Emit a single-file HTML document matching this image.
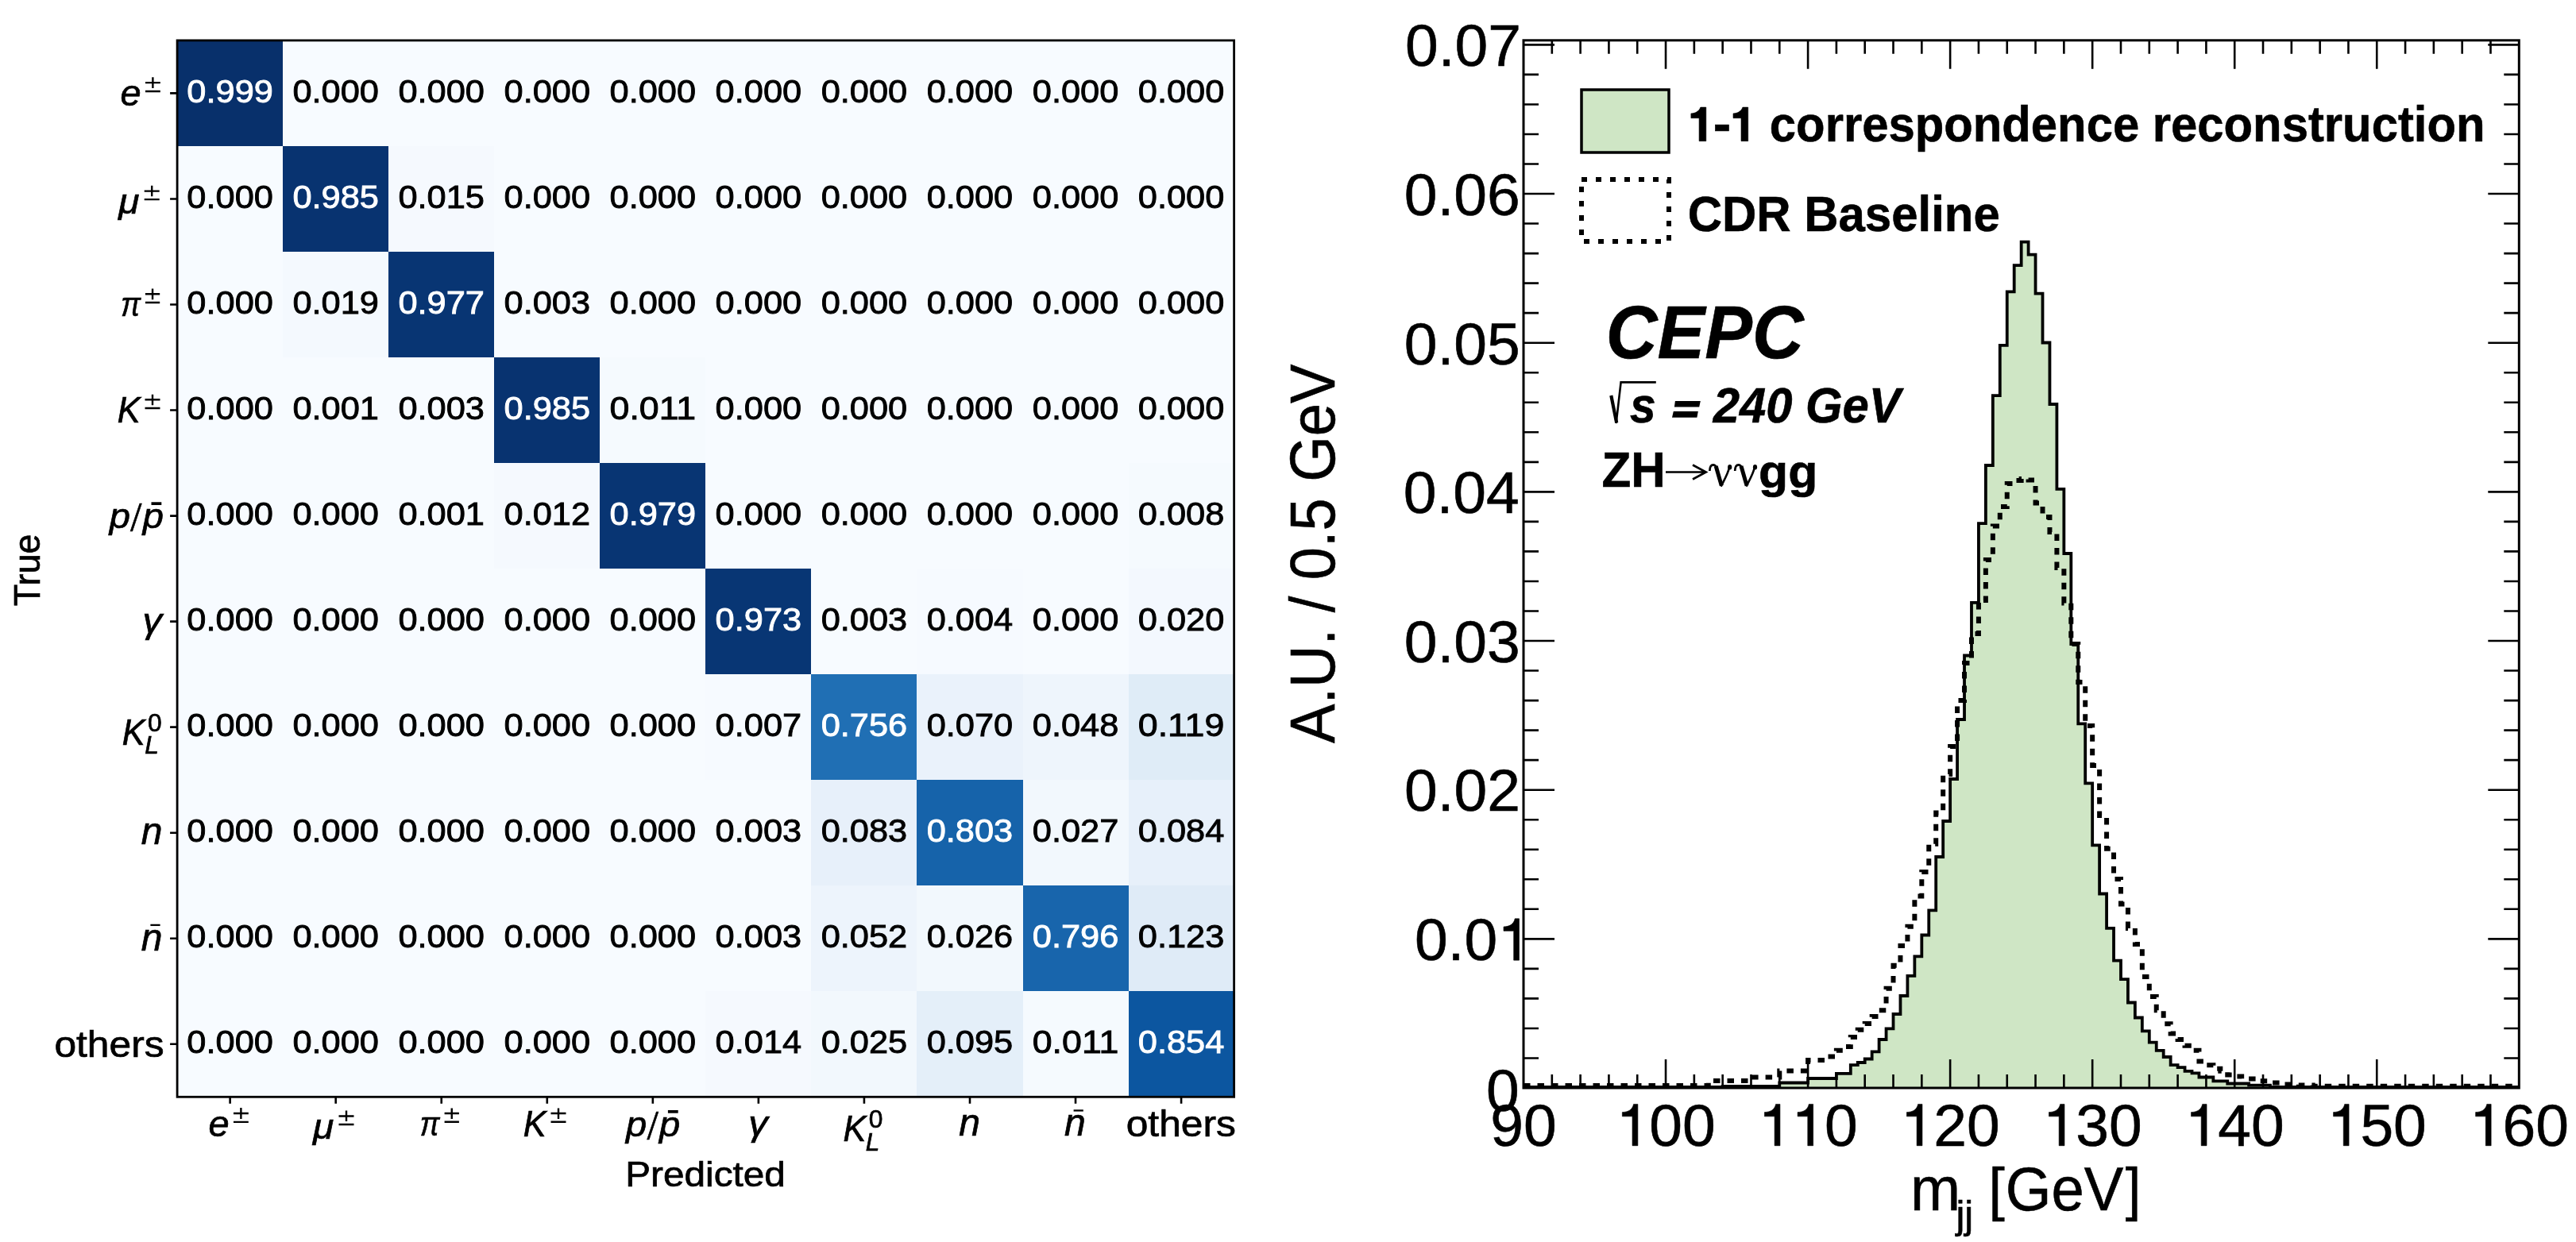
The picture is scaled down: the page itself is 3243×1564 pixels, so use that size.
<!DOCTYPE html><html><head><meta charset="utf-8"><style>html,body{margin:0;padding:0;background:#fff;overflow:hidden}svg{display:block;will-change:transform}text{font-family:"Liberation Sans",sans-serif}</style></head><body>
<svg width="3243" height="1564" viewBox="0 0 3243 1564">
<rect x="0" y="0" width="3243" height="1564" fill="#fff"/>
<g shape-rendering="crispEdges">
<rect x="223.10" y="50.90" width="133.65" height="133.64" fill="#08306b"/>
<rect x="356.15" y="50.90" width="133.65" height="133.64" fill="#f7fbff"/>
<rect x="489.20" y="50.90" width="133.65" height="133.64" fill="#f7fbff"/>
<rect x="622.25" y="50.90" width="133.65" height="133.64" fill="#f7fbff"/>
<rect x="755.30" y="50.90" width="133.65" height="133.64" fill="#f7fbff"/>
<rect x="888.35" y="50.90" width="133.65" height="133.64" fill="#f7fbff"/>
<rect x="1021.40" y="50.90" width="133.65" height="133.64" fill="#f7fbff"/>
<rect x="1154.45" y="50.90" width="133.65" height="133.64" fill="#f7fbff"/>
<rect x="1287.50" y="50.90" width="133.65" height="133.64" fill="#f7fbff"/>
<rect x="1420.55" y="50.90" width="133.65" height="133.64" fill="#f7fbff"/>
<rect x="223.10" y="183.94" width="133.65" height="133.64" fill="#f7fbff"/>
<rect x="356.15" y="183.94" width="133.65" height="133.64" fill="#083370"/>
<rect x="489.20" y="183.94" width="133.65" height="133.64" fill="#f5f9fe"/>
<rect x="622.25" y="183.94" width="133.65" height="133.64" fill="#f7fbff"/>
<rect x="755.30" y="183.94" width="133.65" height="133.64" fill="#f7fbff"/>
<rect x="888.35" y="183.94" width="133.65" height="133.64" fill="#f7fbff"/>
<rect x="1021.40" y="183.94" width="133.65" height="133.64" fill="#f7fbff"/>
<rect x="1154.45" y="183.94" width="133.65" height="133.64" fill="#f7fbff"/>
<rect x="1287.50" y="183.94" width="133.65" height="133.64" fill="#f7fbff"/>
<rect x="1420.55" y="183.94" width="133.65" height="133.64" fill="#f7fbff"/>
<rect x="223.10" y="316.98" width="133.65" height="133.64" fill="#f7fbff"/>
<rect x="356.15" y="316.98" width="133.65" height="133.64" fill="#f4f9fe"/>
<rect x="489.20" y="316.98" width="133.65" height="133.64" fill="#083573"/>
<rect x="622.25" y="316.98" width="133.65" height="133.64" fill="#f7fbff"/>
<rect x="755.30" y="316.98" width="133.65" height="133.64" fill="#f7fbff"/>
<rect x="888.35" y="316.98" width="133.65" height="133.64" fill="#f7fbff"/>
<rect x="1021.40" y="316.98" width="133.65" height="133.64" fill="#f7fbff"/>
<rect x="1154.45" y="316.98" width="133.65" height="133.64" fill="#f7fbff"/>
<rect x="1287.50" y="316.98" width="133.65" height="133.64" fill="#f7fbff"/>
<rect x="1420.55" y="316.98" width="133.65" height="133.64" fill="#f7fbff"/>
<rect x="223.10" y="450.02" width="133.65" height="133.64" fill="#f7fbff"/>
<rect x="356.15" y="450.02" width="133.65" height="133.64" fill="#f7fbff"/>
<rect x="489.20" y="450.02" width="133.65" height="133.64" fill="#f7fbff"/>
<rect x="622.25" y="450.02" width="133.65" height="133.64" fill="#083370"/>
<rect x="755.30" y="450.02" width="133.65" height="133.64" fill="#f5fafe"/>
<rect x="888.35" y="450.02" width="133.65" height="133.64" fill="#f7fbff"/>
<rect x="1021.40" y="450.02" width="133.65" height="133.64" fill="#f7fbff"/>
<rect x="1154.45" y="450.02" width="133.65" height="133.64" fill="#f7fbff"/>
<rect x="1287.50" y="450.02" width="133.65" height="133.64" fill="#f7fbff"/>
<rect x="1420.55" y="450.02" width="133.65" height="133.64" fill="#f7fbff"/>
<rect x="223.10" y="583.06" width="133.65" height="133.64" fill="#f7fbff"/>
<rect x="356.15" y="583.06" width="133.65" height="133.64" fill="#f7fbff"/>
<rect x="489.20" y="583.06" width="133.65" height="133.64" fill="#f7fbff"/>
<rect x="622.25" y="583.06" width="133.65" height="133.64" fill="#f5f9fe"/>
<rect x="755.30" y="583.06" width="133.65" height="133.64" fill="#083573"/>
<rect x="888.35" y="583.06" width="133.65" height="133.64" fill="#f7fbff"/>
<rect x="1021.40" y="583.06" width="133.65" height="133.64" fill="#f7fbff"/>
<rect x="1154.45" y="583.06" width="133.65" height="133.64" fill="#f7fbff"/>
<rect x="1287.50" y="583.06" width="133.65" height="133.64" fill="#f7fbff"/>
<rect x="1420.55" y="583.06" width="133.65" height="133.64" fill="#f5fafe"/>
<rect x="223.10" y="716.10" width="133.65" height="133.64" fill="#f7fbff"/>
<rect x="356.15" y="716.10" width="133.65" height="133.64" fill="#f7fbff"/>
<rect x="489.20" y="716.10" width="133.65" height="133.64" fill="#f7fbff"/>
<rect x="622.25" y="716.10" width="133.65" height="133.64" fill="#f7fbff"/>
<rect x="755.30" y="716.10" width="133.65" height="133.64" fill="#f7fbff"/>
<rect x="888.35" y="716.10" width="133.65" height="133.64" fill="#083674"/>
<rect x="1021.40" y="716.10" width="133.65" height="133.64" fill="#f7fbff"/>
<rect x="1154.45" y="716.10" width="133.65" height="133.64" fill="#f6faff"/>
<rect x="1287.50" y="716.10" width="133.65" height="133.64" fill="#f7fbff"/>
<rect x="1420.55" y="716.10" width="133.65" height="133.64" fill="#f3f8fe"/>
<rect x="223.10" y="849.14" width="133.65" height="133.64" fill="#f7fbff"/>
<rect x="356.15" y="849.14" width="133.65" height="133.64" fill="#f7fbff"/>
<rect x="489.20" y="849.14" width="133.65" height="133.64" fill="#f7fbff"/>
<rect x="622.25" y="849.14" width="133.65" height="133.64" fill="#f7fbff"/>
<rect x="755.30" y="849.14" width="133.65" height="133.64" fill="#f7fbff"/>
<rect x="888.35" y="849.14" width="133.65" height="133.64" fill="#f6faff"/>
<rect x="1021.40" y="849.14" width="133.65" height="133.64" fill="#206fb4"/>
<rect x="1154.45" y="849.14" width="133.65" height="133.64" fill="#eaf2fb"/>
<rect x="1287.50" y="849.14" width="133.65" height="133.64" fill="#eef5fc"/>
<rect x="1420.55" y="849.14" width="133.65" height="133.64" fill="#dfecf7"/>
<rect x="223.10" y="982.18" width="133.65" height="133.64" fill="#f7fbff"/>
<rect x="356.15" y="982.18" width="133.65" height="133.64" fill="#f7fbff"/>
<rect x="489.20" y="982.18" width="133.65" height="133.64" fill="#f7fbff"/>
<rect x="622.25" y="982.18" width="133.65" height="133.64" fill="#f7fbff"/>
<rect x="755.30" y="982.18" width="133.65" height="133.64" fill="#f7fbff"/>
<rect x="888.35" y="982.18" width="133.65" height="133.64" fill="#f7fbff"/>
<rect x="1021.40" y="982.18" width="133.65" height="133.64" fill="#e7f0fa"/>
<rect x="1154.45" y="982.18" width="133.65" height="133.64" fill="#1663aa"/>
<rect x="1287.50" y="982.18" width="133.65" height="133.64" fill="#f2f8fd"/>
<rect x="1420.55" y="982.18" width="133.65" height="133.64" fill="#e7f0fa"/>
<rect x="223.10" y="1115.22" width="133.65" height="133.64" fill="#f7fbff"/>
<rect x="356.15" y="1115.22" width="133.65" height="133.64" fill="#f7fbff"/>
<rect x="489.20" y="1115.22" width="133.65" height="133.64" fill="#f7fbff"/>
<rect x="622.25" y="1115.22" width="133.65" height="133.64" fill="#f7fbff"/>
<rect x="755.30" y="1115.22" width="133.65" height="133.64" fill="#f7fbff"/>
<rect x="888.35" y="1115.22" width="133.65" height="133.64" fill="#f7fbff"/>
<rect x="1021.40" y="1115.22" width="133.65" height="133.64" fill="#edf4fc"/>
<rect x="1154.45" y="1115.22" width="133.65" height="133.64" fill="#f2f8fd"/>
<rect x="1287.50" y="1115.22" width="133.65" height="133.64" fill="#1865ac"/>
<rect x="1420.55" y="1115.22" width="133.65" height="133.64" fill="#dfebf7"/>
<rect x="223.10" y="1248.26" width="133.65" height="133.64" fill="#f7fbff"/>
<rect x="356.15" y="1248.26" width="133.65" height="133.64" fill="#f7fbff"/>
<rect x="489.20" y="1248.26" width="133.65" height="133.64" fill="#f7fbff"/>
<rect x="622.25" y="1248.26" width="133.65" height="133.64" fill="#f7fbff"/>
<rect x="755.30" y="1248.26" width="133.65" height="133.64" fill="#f7fbff"/>
<rect x="888.35" y="1248.26" width="133.65" height="133.64" fill="#f5f9fe"/>
<rect x="1021.40" y="1248.26" width="133.65" height="133.64" fill="#f2f8fd"/>
<rect x="1154.45" y="1248.26" width="133.65" height="133.64" fill="#e4eff9"/>
<rect x="1287.50" y="1248.26" width="133.65" height="133.64" fill="#f5fafe"/>
<rect x="1420.55" y="1248.26" width="133.65" height="133.64" fill="#0c56a0"/>
</g>
<g font-size="41" text-anchor="middle">
<text x="289.62" y="128.52" fill="#fff" stroke="#fff" stroke-width="0.9" textLength="108.5" lengthAdjust="spacingAndGlyphs">0.999</text>
<text x="422.68" y="128.52" fill="#000" stroke="#000" stroke-width="0.9" textLength="108.5" lengthAdjust="spacingAndGlyphs">0.000</text>
<text x="555.73" y="128.52" fill="#000" stroke="#000" stroke-width="0.9" textLength="108.5" lengthAdjust="spacingAndGlyphs">0.000</text>
<text x="688.78" y="128.52" fill="#000" stroke="#000" stroke-width="0.9" textLength="108.5" lengthAdjust="spacingAndGlyphs">0.000</text>
<text x="821.83" y="128.52" fill="#000" stroke="#000" stroke-width="0.9" textLength="108.5" lengthAdjust="spacingAndGlyphs">0.000</text>
<text x="954.88" y="128.52" fill="#000" stroke="#000" stroke-width="0.9" textLength="108.5" lengthAdjust="spacingAndGlyphs">0.000</text>
<text x="1087.92" y="128.52" fill="#000" stroke="#000" stroke-width="0.9" textLength="108.5" lengthAdjust="spacingAndGlyphs">0.000</text>
<text x="1220.98" y="128.52" fill="#000" stroke="#000" stroke-width="0.9" textLength="108.5" lengthAdjust="spacingAndGlyphs">0.000</text>
<text x="1354.03" y="128.52" fill="#000" stroke="#000" stroke-width="0.9" textLength="108.5" lengthAdjust="spacingAndGlyphs">0.000</text>
<text x="1487.08" y="128.52" fill="#000" stroke="#000" stroke-width="0.9" textLength="108.5" lengthAdjust="spacingAndGlyphs">0.000</text>
<text x="289.62" y="261.56" fill="#000" stroke="#000" stroke-width="0.9" textLength="108.5" lengthAdjust="spacingAndGlyphs">0.000</text>
<text x="422.68" y="261.56" fill="#fff" stroke="#fff" stroke-width="0.9" textLength="108.5" lengthAdjust="spacingAndGlyphs">0.985</text>
<text x="555.73" y="261.56" fill="#000" stroke="#000" stroke-width="0.9" textLength="108.5" lengthAdjust="spacingAndGlyphs">0.015</text>
<text x="688.78" y="261.56" fill="#000" stroke="#000" stroke-width="0.9" textLength="108.5" lengthAdjust="spacingAndGlyphs">0.000</text>
<text x="821.83" y="261.56" fill="#000" stroke="#000" stroke-width="0.9" textLength="108.5" lengthAdjust="spacingAndGlyphs">0.000</text>
<text x="954.88" y="261.56" fill="#000" stroke="#000" stroke-width="0.9" textLength="108.5" lengthAdjust="spacingAndGlyphs">0.000</text>
<text x="1087.92" y="261.56" fill="#000" stroke="#000" stroke-width="0.9" textLength="108.5" lengthAdjust="spacingAndGlyphs">0.000</text>
<text x="1220.98" y="261.56" fill="#000" stroke="#000" stroke-width="0.9" textLength="108.5" lengthAdjust="spacingAndGlyphs">0.000</text>
<text x="1354.03" y="261.56" fill="#000" stroke="#000" stroke-width="0.9" textLength="108.5" lengthAdjust="spacingAndGlyphs">0.000</text>
<text x="1487.08" y="261.56" fill="#000" stroke="#000" stroke-width="0.9" textLength="108.5" lengthAdjust="spacingAndGlyphs">0.000</text>
<text x="289.62" y="394.60" fill="#000" stroke="#000" stroke-width="0.9" textLength="108.5" lengthAdjust="spacingAndGlyphs">0.000</text>
<text x="422.68" y="394.60" fill="#000" stroke="#000" stroke-width="0.9" textLength="108.5" lengthAdjust="spacingAndGlyphs">0.019</text>
<text x="555.73" y="394.60" fill="#fff" stroke="#fff" stroke-width="0.9" textLength="108.5" lengthAdjust="spacingAndGlyphs">0.977</text>
<text x="688.78" y="394.60" fill="#000" stroke="#000" stroke-width="0.9" textLength="108.5" lengthAdjust="spacingAndGlyphs">0.003</text>
<text x="821.83" y="394.60" fill="#000" stroke="#000" stroke-width="0.9" textLength="108.5" lengthAdjust="spacingAndGlyphs">0.000</text>
<text x="954.88" y="394.60" fill="#000" stroke="#000" stroke-width="0.9" textLength="108.5" lengthAdjust="spacingAndGlyphs">0.000</text>
<text x="1087.92" y="394.60" fill="#000" stroke="#000" stroke-width="0.9" textLength="108.5" lengthAdjust="spacingAndGlyphs">0.000</text>
<text x="1220.98" y="394.60" fill="#000" stroke="#000" stroke-width="0.9" textLength="108.5" lengthAdjust="spacingAndGlyphs">0.000</text>
<text x="1354.03" y="394.60" fill="#000" stroke="#000" stroke-width="0.9" textLength="108.5" lengthAdjust="spacingAndGlyphs">0.000</text>
<text x="1487.08" y="394.60" fill="#000" stroke="#000" stroke-width="0.9" textLength="108.5" lengthAdjust="spacingAndGlyphs">0.000</text>
<text x="289.62" y="527.64" fill="#000" stroke="#000" stroke-width="0.9" textLength="108.5" lengthAdjust="spacingAndGlyphs">0.000</text>
<text x="422.68" y="527.64" fill="#000" stroke="#000" stroke-width="0.9" textLength="108.5" lengthAdjust="spacingAndGlyphs">0.001</text>
<text x="555.73" y="527.64" fill="#000" stroke="#000" stroke-width="0.9" textLength="108.5" lengthAdjust="spacingAndGlyphs">0.003</text>
<text x="688.78" y="527.64" fill="#fff" stroke="#fff" stroke-width="0.9" textLength="108.5" lengthAdjust="spacingAndGlyphs">0.985</text>
<text x="821.83" y="527.64" fill="#000" stroke="#000" stroke-width="0.9" textLength="108.5" lengthAdjust="spacingAndGlyphs">0.011</text>
<text x="954.88" y="527.64" fill="#000" stroke="#000" stroke-width="0.9" textLength="108.5" lengthAdjust="spacingAndGlyphs">0.000</text>
<text x="1087.92" y="527.64" fill="#000" stroke="#000" stroke-width="0.9" textLength="108.5" lengthAdjust="spacingAndGlyphs">0.000</text>
<text x="1220.98" y="527.64" fill="#000" stroke="#000" stroke-width="0.9" textLength="108.5" lengthAdjust="spacingAndGlyphs">0.000</text>
<text x="1354.03" y="527.64" fill="#000" stroke="#000" stroke-width="0.9" textLength="108.5" lengthAdjust="spacingAndGlyphs">0.000</text>
<text x="1487.08" y="527.64" fill="#000" stroke="#000" stroke-width="0.9" textLength="108.5" lengthAdjust="spacingAndGlyphs">0.000</text>
<text x="289.62" y="660.68" fill="#000" stroke="#000" stroke-width="0.9" textLength="108.5" lengthAdjust="spacingAndGlyphs">0.000</text>
<text x="422.68" y="660.68" fill="#000" stroke="#000" stroke-width="0.9" textLength="108.5" lengthAdjust="spacingAndGlyphs">0.000</text>
<text x="555.73" y="660.68" fill="#000" stroke="#000" stroke-width="0.9" textLength="108.5" lengthAdjust="spacingAndGlyphs">0.001</text>
<text x="688.78" y="660.68" fill="#000" stroke="#000" stroke-width="0.9" textLength="108.5" lengthAdjust="spacingAndGlyphs">0.012</text>
<text x="821.83" y="660.68" fill="#fff" stroke="#fff" stroke-width="0.9" textLength="108.5" lengthAdjust="spacingAndGlyphs">0.979</text>
<text x="954.88" y="660.68" fill="#000" stroke="#000" stroke-width="0.9" textLength="108.5" lengthAdjust="spacingAndGlyphs">0.000</text>
<text x="1087.92" y="660.68" fill="#000" stroke="#000" stroke-width="0.9" textLength="108.5" lengthAdjust="spacingAndGlyphs">0.000</text>
<text x="1220.98" y="660.68" fill="#000" stroke="#000" stroke-width="0.9" textLength="108.5" lengthAdjust="spacingAndGlyphs">0.000</text>
<text x="1354.03" y="660.68" fill="#000" stroke="#000" stroke-width="0.9" textLength="108.5" lengthAdjust="spacingAndGlyphs">0.000</text>
<text x="1487.08" y="660.68" fill="#000" stroke="#000" stroke-width="0.9" textLength="108.5" lengthAdjust="spacingAndGlyphs">0.008</text>
<text x="289.62" y="793.72" fill="#000" stroke="#000" stroke-width="0.9" textLength="108.5" lengthAdjust="spacingAndGlyphs">0.000</text>
<text x="422.68" y="793.72" fill="#000" stroke="#000" stroke-width="0.9" textLength="108.5" lengthAdjust="spacingAndGlyphs">0.000</text>
<text x="555.73" y="793.72" fill="#000" stroke="#000" stroke-width="0.9" textLength="108.5" lengthAdjust="spacingAndGlyphs">0.000</text>
<text x="688.78" y="793.72" fill="#000" stroke="#000" stroke-width="0.9" textLength="108.5" lengthAdjust="spacingAndGlyphs">0.000</text>
<text x="821.83" y="793.72" fill="#000" stroke="#000" stroke-width="0.9" textLength="108.5" lengthAdjust="spacingAndGlyphs">0.000</text>
<text x="954.88" y="793.72" fill="#fff" stroke="#fff" stroke-width="0.9" textLength="108.5" lengthAdjust="spacingAndGlyphs">0.973</text>
<text x="1087.92" y="793.72" fill="#000" stroke="#000" stroke-width="0.9" textLength="108.5" lengthAdjust="spacingAndGlyphs">0.003</text>
<text x="1220.98" y="793.72" fill="#000" stroke="#000" stroke-width="0.9" textLength="108.5" lengthAdjust="spacingAndGlyphs">0.004</text>
<text x="1354.03" y="793.72" fill="#000" stroke="#000" stroke-width="0.9" textLength="108.5" lengthAdjust="spacingAndGlyphs">0.000</text>
<text x="1487.08" y="793.72" fill="#000" stroke="#000" stroke-width="0.9" textLength="108.5" lengthAdjust="spacingAndGlyphs">0.020</text>
<text x="289.62" y="926.76" fill="#000" stroke="#000" stroke-width="0.9" textLength="108.5" lengthAdjust="spacingAndGlyphs">0.000</text>
<text x="422.68" y="926.76" fill="#000" stroke="#000" stroke-width="0.9" textLength="108.5" lengthAdjust="spacingAndGlyphs">0.000</text>
<text x="555.73" y="926.76" fill="#000" stroke="#000" stroke-width="0.9" textLength="108.5" lengthAdjust="spacingAndGlyphs">0.000</text>
<text x="688.78" y="926.76" fill="#000" stroke="#000" stroke-width="0.9" textLength="108.5" lengthAdjust="spacingAndGlyphs">0.000</text>
<text x="821.83" y="926.76" fill="#000" stroke="#000" stroke-width="0.9" textLength="108.5" lengthAdjust="spacingAndGlyphs">0.000</text>
<text x="954.88" y="926.76" fill="#000" stroke="#000" stroke-width="0.9" textLength="108.5" lengthAdjust="spacingAndGlyphs">0.007</text>
<text x="1087.92" y="926.76" fill="#fff" stroke="#fff" stroke-width="0.9" textLength="108.5" lengthAdjust="spacingAndGlyphs">0.756</text>
<text x="1220.98" y="926.76" fill="#000" stroke="#000" stroke-width="0.9" textLength="108.5" lengthAdjust="spacingAndGlyphs">0.070</text>
<text x="1354.03" y="926.76" fill="#000" stroke="#000" stroke-width="0.9" textLength="108.5" lengthAdjust="spacingAndGlyphs">0.048</text>
<text x="1487.08" y="926.76" fill="#000" stroke="#000" stroke-width="0.9" textLength="108.5" lengthAdjust="spacingAndGlyphs">0.119</text>
<text x="289.62" y="1059.80" fill="#000" stroke="#000" stroke-width="0.9" textLength="108.5" lengthAdjust="spacingAndGlyphs">0.000</text>
<text x="422.68" y="1059.80" fill="#000" stroke="#000" stroke-width="0.9" textLength="108.5" lengthAdjust="spacingAndGlyphs">0.000</text>
<text x="555.73" y="1059.80" fill="#000" stroke="#000" stroke-width="0.9" textLength="108.5" lengthAdjust="spacingAndGlyphs">0.000</text>
<text x="688.78" y="1059.80" fill="#000" stroke="#000" stroke-width="0.9" textLength="108.5" lengthAdjust="spacingAndGlyphs">0.000</text>
<text x="821.83" y="1059.80" fill="#000" stroke="#000" stroke-width="0.9" textLength="108.5" lengthAdjust="spacingAndGlyphs">0.000</text>
<text x="954.88" y="1059.80" fill="#000" stroke="#000" stroke-width="0.9" textLength="108.5" lengthAdjust="spacingAndGlyphs">0.003</text>
<text x="1087.92" y="1059.80" fill="#000" stroke="#000" stroke-width="0.9" textLength="108.5" lengthAdjust="spacingAndGlyphs">0.083</text>
<text x="1220.98" y="1059.80" fill="#fff" stroke="#fff" stroke-width="0.9" textLength="108.5" lengthAdjust="spacingAndGlyphs">0.803</text>
<text x="1354.03" y="1059.80" fill="#000" stroke="#000" stroke-width="0.9" textLength="108.5" lengthAdjust="spacingAndGlyphs">0.027</text>
<text x="1487.08" y="1059.80" fill="#000" stroke="#000" stroke-width="0.9" textLength="108.5" lengthAdjust="spacingAndGlyphs">0.084</text>
<text x="289.62" y="1192.84" fill="#000" stroke="#000" stroke-width="0.9" textLength="108.5" lengthAdjust="spacingAndGlyphs">0.000</text>
<text x="422.68" y="1192.84" fill="#000" stroke="#000" stroke-width="0.9" textLength="108.5" lengthAdjust="spacingAndGlyphs">0.000</text>
<text x="555.73" y="1192.84" fill="#000" stroke="#000" stroke-width="0.9" textLength="108.5" lengthAdjust="spacingAndGlyphs">0.000</text>
<text x="688.78" y="1192.84" fill="#000" stroke="#000" stroke-width="0.9" textLength="108.5" lengthAdjust="spacingAndGlyphs">0.000</text>
<text x="821.83" y="1192.84" fill="#000" stroke="#000" stroke-width="0.9" textLength="108.5" lengthAdjust="spacingAndGlyphs">0.000</text>
<text x="954.88" y="1192.84" fill="#000" stroke="#000" stroke-width="0.9" textLength="108.5" lengthAdjust="spacingAndGlyphs">0.003</text>
<text x="1087.92" y="1192.84" fill="#000" stroke="#000" stroke-width="0.9" textLength="108.5" lengthAdjust="spacingAndGlyphs">0.052</text>
<text x="1220.98" y="1192.84" fill="#000" stroke="#000" stroke-width="0.9" textLength="108.5" lengthAdjust="spacingAndGlyphs">0.026</text>
<text x="1354.03" y="1192.84" fill="#fff" stroke="#fff" stroke-width="0.9" textLength="108.5" lengthAdjust="spacingAndGlyphs">0.796</text>
<text x="1487.08" y="1192.84" fill="#000" stroke="#000" stroke-width="0.9" textLength="108.5" lengthAdjust="spacingAndGlyphs">0.123</text>
<text x="289.62" y="1325.88" fill="#000" stroke="#000" stroke-width="0.9" textLength="108.5" lengthAdjust="spacingAndGlyphs">0.000</text>
<text x="422.68" y="1325.88" fill="#000" stroke="#000" stroke-width="0.9" textLength="108.5" lengthAdjust="spacingAndGlyphs">0.000</text>
<text x="555.73" y="1325.88" fill="#000" stroke="#000" stroke-width="0.9" textLength="108.5" lengthAdjust="spacingAndGlyphs">0.000</text>
<text x="688.78" y="1325.88" fill="#000" stroke="#000" stroke-width="0.9" textLength="108.5" lengthAdjust="spacingAndGlyphs">0.000</text>
<text x="821.83" y="1325.88" fill="#000" stroke="#000" stroke-width="0.9" textLength="108.5" lengthAdjust="spacingAndGlyphs">0.000</text>
<text x="954.88" y="1325.88" fill="#000" stroke="#000" stroke-width="0.9" textLength="108.5" lengthAdjust="spacingAndGlyphs">0.014</text>
<text x="1087.92" y="1325.88" fill="#000" stroke="#000" stroke-width="0.9" textLength="108.5" lengthAdjust="spacingAndGlyphs">0.025</text>
<text x="1220.98" y="1325.88" fill="#000" stroke="#000" stroke-width="0.9" textLength="108.5" lengthAdjust="spacingAndGlyphs">0.095</text>
<text x="1354.03" y="1325.88" fill="#000" stroke="#000" stroke-width="0.9" textLength="108.5" lengthAdjust="spacingAndGlyphs">0.011</text>
<text x="1487.08" y="1325.88" fill="#fff" stroke="#fff" stroke-width="0.9" textLength="108.5" lengthAdjust="spacingAndGlyphs">0.854</text>
</g>
<rect x="223.1" y="50.9" width="1330.50" height="1330.40" fill="none" stroke="#000" stroke-width="2.8"/>
<path d="M214.10 117.42H223.10 M289.62 1381.30V1389.80 M214.10 250.46H223.10 M422.68 1381.30V1389.80 M214.10 383.50H223.10 M555.73 1381.30V1389.80 M214.10 516.54H223.10 M688.78 1381.30V1389.80 M214.10 649.58H223.10 M821.83 1381.30V1389.80 M214.10 782.62H223.10 M954.88 1381.30V1389.80 M214.10 915.66H223.10 M1087.92 1381.30V1389.80 M214.10 1048.70H223.10 M1220.98 1381.30V1389.80 M214.10 1181.74H223.10 M1354.03 1381.30V1389.80 M214.10 1314.78H223.10 M1487.08 1381.30V1389.80" stroke="#000" stroke-width="2.6" fill="none"/>
<g fill="#000">
<text transform="translate(262.52 1431.15) scale(1.0213 1)" font-size="46.00" font-style="italic" fill="#000" stroke="#000" stroke-width="0.7">e</text><path d="M293.96 1402.00H312.80M303.38 1395.10V1409.00M293.96 1412.90H312.80" stroke="#000" stroke-width="2.4" fill="none"/>
<text transform="translate(151.52 133.27) scale(1.0213 1)" font-size="46.00" font-style="italic" fill="#000" stroke="#000" stroke-width="0.7">e</text><path d="M182.96 104.12H201.80M192.38 97.22V111.12M182.96 115.02H201.80" stroke="#000" stroke-width="2.4" fill="none"/>
<text transform="translate(394.10 1434.01) scale(1.0552 1)" font-size="45.26" font-style="italic" fill="#000" stroke="#000" stroke-width="0.7">μ</text><path d="M426.50 1405.50H445.50M436.00 1398.50V1412.10M426.50 1416.00H445.50" stroke="#000" stroke-width="2.4" fill="none"/>
<text transform="translate(149.30 269.17) scale(1.0552 1)" font-size="45.26" font-style="italic" fill="#000" stroke="#000" stroke-width="0.7">μ</text><path d="M181.70 240.66H200.70M191.20 233.66V247.26M181.70 251.16H200.70" stroke="#000" stroke-width="2.4" fill="none"/>
<text transform="translate(528.86 1430.28) scale(0.8544 1)" font-size="43.30" font-style="italic" fill="#000" stroke="#000" stroke-width="0.7">π</text><path d="M559.60 1402.00H577.90M568.75 1395.40V1409.00M559.60 1412.80H577.90" stroke="#000" stroke-width="2.4" fill="none"/>
<text transform="translate(152.16 398.48) scale(0.8544 1)" font-size="43.30" font-style="italic" fill="#000" stroke="#000" stroke-width="0.7">π</text><path d="M182.90 370.20H201.20M192.05 363.60V377.20M182.90 381.00H201.20" stroke="#000" stroke-width="2.4" fill="none"/>
<text transform="translate(658.77 1430.70) scale(0.9357 1)" font-size="46.22" font-style="italic" fill="#000" stroke="#000" stroke-width="0.7">K</text><path d="M693.50 1402.00H712.50M703.00 1395.40V1409.00M693.50 1412.80H712.50" stroke="#000" stroke-width="2.4" fill="none"/>
<text transform="translate(147.77 531.94) scale(0.9357 1)" font-size="46.22" font-style="italic" fill="#000" stroke="#000" stroke-width="0.7">K</text><path d="M182.50 503.24H201.50M192.00 496.64V510.24M182.50 514.04H201.50" stroke="#000" stroke-width="2.4" fill="none"/>
<text transform="translate(788.08 1430.76) scale(1.0598 1)" font-size="44.53" font-style="italic" fill="#000" stroke="#000" stroke-width="0.7">p</text><text transform="translate(816.44 1434.52) scale(0.7007 1)" font-size="48.89" font-style="italic" fill="#000" stroke="#000" stroke-width="0.7">/</text><text transform="translate(830.08 1430.76) scale(1.0598 1)" font-size="44.53" font-style="italic" fill="#000" stroke="#000" stroke-width="0.7">p</text><rect x="840.90" y="1398.00" width="12.80" height="3.70" fill="#000"/>
<text transform="translate(137.68 665.04) scale(1.0598 1)" font-size="44.53" font-style="italic" fill="#000" stroke="#000" stroke-width="0.7">p</text><text transform="translate(166.04 668.80) scale(0.7007 1)" font-size="48.89" font-style="italic" fill="#000" stroke="#000" stroke-width="0.7">/</text><text transform="translate(179.68 665.04) scale(1.0598 1)" font-size="44.53" font-style="italic" fill="#000" stroke="#000" stroke-width="0.7">p</text><rect x="190.50" y="632.28" width="12.80" height="3.70" fill="#000"/>
<text transform="translate(942.15 1429.92) scale(1.0791 1)" font-size="45.28" font-style="italic" fill="#000" stroke="#000" stroke-width="0.7">γ</text>
<text transform="translate(179.55 797.24) scale(1.0791 1)" font-size="45.28" font-style="italic" fill="#000" stroke="#000" stroke-width="0.7">γ</text>
<text transform="translate(1061.57 1437.40) scale(0.9357 1)" font-size="46.22" font-style="italic" fill="#000" stroke="#000" stroke-width="0.7">K</text><text transform="translate(1093.76 1420.39) scale(1.0006 1)" font-size="31.78"  fill="#000" stroke="#000" stroke-width="0.7">0</text><text transform="translate(1089.83 1449.00) scale(1.0021 1)" font-size="31.54" font-style="italic" fill="#000" stroke="#000" stroke-width="0.7">L</text>
<text transform="translate(153.87 937.76) scale(0.9357 1)" font-size="46.22" font-style="italic" fill="#000" stroke="#000" stroke-width="0.7">K</text><text transform="translate(186.06 920.75) scale(1.0006 1)" font-size="31.78"  fill="#000" stroke="#000" stroke-width="0.7">0</text><text transform="translate(182.13 949.36) scale(1.0021 1)" font-size="31.54" font-style="italic" fill="#000" stroke="#000" stroke-width="0.7">L</text>
<text transform="translate(1207.20 1429.70) scale(0.9955 1)" font-size="48.18" font-style="italic" fill="#000" stroke="#000" stroke-width="0.7">n</text>
<text transform="translate(177.80 1063.10) scale(0.9955 1)" font-size="48.18" font-style="italic" fill="#000" stroke="#000" stroke-width="0.7">n</text>
<text transform="translate(1340.00 1430.40) scale(0.9955 1)" font-size="48.18" font-style="italic" fill="#000" stroke="#000" stroke-width="0.7">n</text><rect x="1351.60" y="1397.30" width="12.20" height="2.30" fill="#000"/>
<text transform="translate(177.80 1196.84) scale(0.9955 1)" font-size="48.18" font-style="italic" fill="#000" stroke="#000" stroke-width="0.7">n</text><rect x="189.40" y="1163.74" width="12.20" height="2.30" fill="#000"/>
<text transform="translate(1417.71 1431.15) scale(1.0867 1)" font-size="45.75"  fill="#000" stroke="#000" stroke-width="0.7">others</text>
<text transform="translate(68.41 1330.63) scale(1.0867 1)" font-size="45.75"  fill="#000" stroke="#000" stroke-width="0.7">others</text>
<text transform="translate(787.18 1493.50) scale(1.0856 1)" font-size="44.00"  fill="#000" stroke="#000" stroke-width="0.7">Predicted</text>
<g transform="translate(50.1 762.3) rotate(-90)"><text transform="translate(-1.01 0.00) scale(0.9834 1)" font-size="45.80"  fill="#000" stroke="#000" stroke-width="0.7">True</text></g>
</g>
<path d="M1918.00 1369.00H1926.95V1369.00H1935.90V1369.00H1944.86V1369.00H1953.81V1369.00H1962.76V1369.00H1971.71V1369.00H1980.66V1369.00H1989.62V1369.00H1998.57V1369.00H2007.52V1369.00H2016.47V1369.00H2025.43V1369.00H2034.38V1369.00H2043.33V1369.00H2052.28V1369.00H2061.23V1369.00H2070.19V1369.00H2079.14V1369.00H2088.09V1369.00H2097.04V1369.00H2105.99V1369.00H2114.95V1369.00H2123.90V1369.00H2132.85V1369.00H2141.80V1369.00H2150.76V1369.00H2159.71V1369.00H2168.66V1367.80H2177.61V1367.80H2186.56V1367.80H2195.52V1367.80H2204.47V1367.80H2213.42V1367.80H2222.37V1367.80H2231.32V1367.80H2240.28V1363.50H2249.23V1363.50H2258.18V1363.50H2267.13V1363.50H2276.09V1358.00H2285.04V1358.00H2293.99V1358.00H2302.94V1358.00H2311.89V1351.90H2320.85V1351.90H2329.80V1341.20H2338.75V1338.00H2347.70V1333.50H2356.66V1324.40H2365.61V1309.00H2374.56V1295.30H2383.51V1277.00H2392.46V1254.00H2401.42V1228.90H2410.37V1204.40H2419.32V1177.50H2428.27V1146.30H2437.22V1079.00H2446.18V1034.00H2455.13V981.00H2464.08V906.00H2473.03V825.50H2481.99V758.80H2490.94V659.20H2499.89V586.00H2508.84V498.10H2517.79V434.90H2526.75V367.30H2535.70V334.10H2544.65V304.70H2553.60V320.60H2562.55V369.60H2571.51V431.50H2580.46V509.00H2589.41V615.80H2598.36V697.00H2607.32V811.00H2616.27V911.40H2625.22V986.40H2634.17V1064.30H2643.12V1125.50H2652.08V1168.90H2661.03V1209.60H2669.98V1233.20H2678.93V1262.50H2687.88V1281.50H2696.84V1298.30H2705.79V1312.70H2714.74V1322.80H2723.69V1331.00H2732.64V1341.20H2741.60V1344.20H2750.55V1348.80H2759.50V1351.30H2768.45V1356.50H2777.41V1356.50H2786.36V1361.30H2795.31V1361.30H2804.26V1364.50H2813.21V1364.50H2822.17V1364.50H2831.12V1366.60H2840.07V1366.60H2849.02V1366.60H2857.98V1368.80H2866.93V1368.80H2875.88V1368.80H2884.83V1368.80H2893.78V1368.80H2902.74V1368.80H2911.69V1368.80H2920.64V1368.80H2929.59V1368.80H2938.54V1368.80H2947.50V1368.80H2956.45V1368.80H2965.40V1368.80H2974.35V1368.80H2983.31V1368.80H2992.26V1368.80H3001.21V1368.80H3010.16V1368.80H3019.11V1368.80H3028.07V1368.80H3037.02V1368.80H3045.97V1368.80H3054.92V1368.80H3063.87V1368.80H3072.83V1368.80H3081.78V1368.80H3090.73V1368.80H3099.68V1368.80H3108.64V1368.80H3117.59V1368.80H3126.54V1368.80H3135.49V1368.80H3144.44V1368.80H3153.40V1368.80H3162.35V1368.80H3171.30V1370.0H1918.0Z" fill="#cfe6c5" stroke="none"/>
<path d="M1918.00 1367.00H1926.95V1367.00H1935.90V1367.00H1944.86V1367.00H1953.81V1367.00H1962.76V1367.00H1971.71V1367.00H1980.66V1367.00H1989.62V1367.00H1998.57V1367.00H2007.52V1367.00H2016.47V1367.00H2025.43V1367.00H2034.38V1367.00H2043.33V1367.00H2052.28V1367.00H2061.23V1367.00H2070.19V1367.00H2079.14V1367.00H2088.09V1367.00H2097.04V1367.00H2105.99V1367.00H2114.95V1367.00H2123.90V1367.00H2132.85V1367.00H2141.80V1367.00H2150.76V1361.00H2159.71V1361.00H2168.66V1361.00H2177.61V1361.00H2186.56V1361.00H2195.52V1361.00H2204.47V1356.60H2213.42V1356.60H2222.37V1356.60H2231.32V1356.60H2240.28V1348.40H2249.23V1348.40H2258.18V1348.40H2267.13V1348.40H2276.09V1335.00H2285.04V1335.00H2293.99V1330.50H2302.94V1330.50H2311.89V1322.80H2320.85V1318.00H2329.80V1306.00H2338.75V1296.80H2347.70V1289.00H2356.66V1280.00H2365.61V1272.30H2374.56V1244.80H2383.51V1215.70H2392.46V1191.00H2401.42V1166.80H2410.37V1128.50H2419.32V1098.00H2428.27V1062.70H2437.22V1023.50H2446.18V975.00H2455.13V940.00H2464.08V882.00H2473.03V835.00H2481.99V798.00H2490.94V756.00H2499.89V705.00H2508.84V662.50H2517.79V638.00H2526.75V609.00H2535.70V605.00H2544.65V603.00H2553.60V604.50H2562.55V633.50H2571.51V651.00H2580.46V670.00H2589.41V715.00H2598.36V759.50H2607.32V811.00H2616.27V859.00H2625.22V914.00H2634.17V964.00H2643.12V1027.00H2652.08V1068.80H2661.03V1107.00H2669.98V1138.50H2678.93V1169.00H2687.88V1189.00H2696.84V1230.00H2705.79V1255.00H2714.74V1272.30H2723.69V1289.20H2732.64V1301.40H2741.60V1309.00H2750.55V1316.70H2759.50V1322.80H2768.45V1336.60H2777.41V1341.20H2786.36V1345.80H2795.31V1348.80H2804.26V1353.40H2813.21V1355.60H2822.17V1358.40H2831.12V1358.40H2840.07V1361.30H2849.02V1361.30H2857.98V1363.40H2866.93V1363.40H2875.88V1365.50H2884.83V1365.50H2893.78V1366.60H2902.74V1366.60H2911.69V1367.80H2920.64V1367.80H2929.59V1367.80H2938.54V1367.80H2947.50V1367.80H2956.45V1367.80H2965.40V1367.80H2974.35V1367.80H2983.31V1367.80H2992.26V1367.80H3001.21V1367.80H3010.16V1367.80H3019.11V1367.80H3028.07V1367.80H3037.02V1367.80H3045.97V1367.80H3054.92V1367.80H3063.87V1367.80H3072.83V1367.80H3081.78V1367.80H3090.73V1367.80H3099.68V1367.80H3108.64V1367.80H3117.59V1367.80H3126.54V1367.80H3135.49V1367.80H3144.44V1367.80H3153.40V1367.80H3162.35V1367.80H3171.30" fill="none" stroke="#000" stroke-width="6" stroke-dasharray="8.5 9" stroke-linejoin="miter"/>
<path d="M1918.00 1369.00H1926.95V1369.00H1935.90V1369.00H1944.86V1369.00H1953.81V1369.00H1962.76V1369.00H1971.71V1369.00H1980.66V1369.00H1989.62V1369.00H1998.57V1369.00H2007.52V1369.00H2016.47V1369.00H2025.43V1369.00H2034.38V1369.00H2043.33V1369.00H2052.28V1369.00H2061.23V1369.00H2070.19V1369.00H2079.14V1369.00H2088.09V1369.00H2097.04V1369.00H2105.99V1369.00H2114.95V1369.00H2123.90V1369.00H2132.85V1369.00H2141.80V1369.00H2150.76V1369.00H2159.71V1369.00H2168.66V1367.80H2177.61V1367.80H2186.56V1367.80H2195.52V1367.80H2204.47V1367.80H2213.42V1367.80H2222.37V1367.80H2231.32V1367.80H2240.28V1363.50H2249.23V1363.50H2258.18V1363.50H2267.13V1363.50H2276.09V1358.00H2285.04V1358.00H2293.99V1358.00H2302.94V1358.00H2311.89V1351.90H2320.85V1351.90H2329.80V1341.20H2338.75V1338.00H2347.70V1333.50H2356.66V1324.40H2365.61V1309.00H2374.56V1295.30H2383.51V1277.00H2392.46V1254.00H2401.42V1228.90H2410.37V1204.40H2419.32V1177.50H2428.27V1146.30H2437.22V1079.00H2446.18V1034.00H2455.13V981.00H2464.08V906.00H2473.03V825.50H2481.99V758.80H2490.94V659.20H2499.89V586.00H2508.84V498.10H2517.79V434.90H2526.75V367.30H2535.70V334.10H2544.65V304.70H2553.60V320.60H2562.55V369.60H2571.51V431.50H2580.46V509.00H2589.41V615.80H2598.36V697.00H2607.32V811.00H2616.27V911.40H2625.22V986.40H2634.17V1064.30H2643.12V1125.50H2652.08V1168.90H2661.03V1209.60H2669.98V1233.20H2678.93V1262.50H2687.88V1281.50H2696.84V1298.30H2705.79V1312.70H2714.74V1322.80H2723.69V1331.00H2732.64V1341.20H2741.60V1344.20H2750.55V1348.80H2759.50V1351.30H2768.45V1356.50H2777.41V1356.50H2786.36V1361.30H2795.31V1361.30H2804.26V1364.50H2813.21V1364.50H2822.17V1364.50H2831.12V1366.60H2840.07V1366.60H2849.02V1366.60H2857.98V1368.80H2866.93V1368.80H2875.88V1368.80H2884.83V1368.80H2893.78V1368.80H2902.74V1368.80H2911.69V1368.80H2920.64V1368.80H2929.59V1368.80H2938.54V1368.80H2947.50V1368.80H2956.45V1368.80H2965.40V1368.80H2974.35V1368.80H2983.31V1368.80H2992.26V1368.80H3001.21V1368.80H3010.16V1368.80H3019.11V1368.80H3028.07V1368.80H3037.02V1368.80H3045.97V1368.80H3054.92V1368.80H3063.87V1368.80H3072.83V1368.80H3081.78V1368.80H3090.73V1368.80H3099.68V1368.80H3108.64V1368.80H3117.59V1368.80H3126.54V1368.80H3135.49V1368.80H3144.44V1368.80H3153.40V1368.80H3162.35V1368.80H3171.30" fill="none" stroke="#000" stroke-width="3.8" stroke-linejoin="miter"/>
<rect x="1918.0" y="50.8" width="1253.30" height="1319.20" fill="none" stroke="#000" stroke-width="3"/>
<path d="M1953.81 1370.00V1353.00 M1953.81 50.80V67.80 M1989.62 1370.00V1353.00 M1989.62 50.80V67.80 M2025.43 1370.00V1353.00 M2025.43 50.80V67.80 M2061.23 1370.00V1353.00 M2061.23 50.80V67.80 M2097.04 1370.00V1334.00 M2097.04 50.80V86.80 M2132.85 1370.00V1353.00 M2132.85 50.80V67.80 M2168.66 1370.00V1353.00 M2168.66 50.80V67.80 M2204.47 1370.00V1353.00 M2204.47 50.80V67.80 M2240.28 1370.00V1353.00 M2240.28 50.80V67.80 M2276.09 1370.00V1334.00 M2276.09 50.80V86.80 M2311.89 1370.00V1353.00 M2311.89 50.80V67.80 M2347.70 1370.00V1353.00 M2347.70 50.80V67.80 M2383.51 1370.00V1353.00 M2383.51 50.80V67.80 M2419.32 1370.00V1353.00 M2419.32 50.80V67.80 M2455.13 1370.00V1334.00 M2455.13 50.80V86.80 M2490.94 1370.00V1353.00 M2490.94 50.80V67.80 M2526.75 1370.00V1353.00 M2526.75 50.80V67.80 M2562.55 1370.00V1353.00 M2562.55 50.80V67.80 M2598.36 1370.00V1353.00 M2598.36 50.80V67.80 M2634.17 1370.00V1334.00 M2634.17 50.80V86.80 M2669.98 1370.00V1353.00 M2669.98 50.80V67.80 M2705.79 1370.00V1353.00 M2705.79 50.80V67.80 M2741.60 1370.00V1353.00 M2741.60 50.80V67.80 M2777.41 1370.00V1353.00 M2777.41 50.80V67.80 M2813.21 1370.00V1334.00 M2813.21 50.80V86.80 M2849.02 1370.00V1353.00 M2849.02 50.80V67.80 M2884.83 1370.00V1353.00 M2884.83 50.80V67.80 M2920.64 1370.00V1353.00 M2920.64 50.80V67.80 M2956.45 1370.00V1353.00 M2956.45 50.80V67.80 M2992.26 1370.00V1334.00 M2992.26 50.80V86.80 M3028.07 1370.00V1353.00 M3028.07 50.80V67.80 M3063.87 1370.00V1353.00 M3063.87 50.80V67.80 M3099.68 1370.00V1353.00 M3099.68 50.80V67.80 M3135.49 1370.00V1353.00 M3135.49 50.80V67.80 M1918.00 1332.47H1937.00 M3171.30 1332.47H3152.30 M1918.00 1294.94H1937.00 M3171.30 1294.94H3152.30 M1918.00 1257.40H1937.00 M3171.30 1257.40H3152.30 M1918.00 1219.87H1937.00 M3171.30 1219.87H3152.30 M1918.00 1182.34H1957.00 M3171.30 1182.34H3132.30 M1918.00 1144.81H1937.00 M3171.30 1144.81H3152.30 M1918.00 1107.28H1937.00 M3171.30 1107.28H3152.30 M1918.00 1069.74H1937.00 M3171.30 1069.74H3152.30 M1918.00 1032.21H1937.00 M3171.30 1032.21H3152.30 M1918.00 994.68H1957.00 M3171.30 994.68H3132.30 M1918.00 957.15H1937.00 M3171.30 957.15H3152.30 M1918.00 919.62H1937.00 M3171.30 919.62H3152.30 M1918.00 882.08H1937.00 M3171.30 882.08H3152.30 M1918.00 844.55H1937.00 M3171.30 844.55H3152.30 M1918.00 807.02H1957.00 M3171.30 807.02H3132.30 M1918.00 769.49H1937.00 M3171.30 769.49H3152.30 M1918.00 731.96H1937.00 M3171.30 731.96H3152.30 M1918.00 694.42H1937.00 M3171.30 694.42H3152.30 M1918.00 656.89H1937.00 M3171.30 656.89H3152.30 M1918.00 619.36H1957.00 M3171.30 619.36H3132.30 M1918.00 581.83H1937.00 M3171.30 581.83H3152.30 M1918.00 544.30H1937.00 M3171.30 544.30H3152.30 M1918.00 506.76H1937.00 M3171.30 506.76H3152.30 M1918.00 469.23H1937.00 M3171.30 469.23H3152.30 M1918.00 431.70H1957.00 M3171.30 431.70H3132.30 M1918.00 394.17H1937.00 M3171.30 394.17H3152.30 M1918.00 356.64H1937.00 M3171.30 356.64H3152.30 M1918.00 319.10H1937.00 M3171.30 319.10H3152.30 M1918.00 281.57H1937.00 M3171.30 281.57H3152.30 M1918.00 244.04H1957.00 M3171.30 244.04H3132.30 M1918.00 206.51H1937.00 M3171.30 206.51H3152.30 M1918.00 168.98H1937.00 M3171.30 168.98H3152.30 M1918.00 131.44H1937.00 M3171.30 131.44H3152.30 M1918.00 93.91H1937.00 M3171.30 93.91H3152.30 M1918.00 56.38H1957.00 M3171.30 56.38H3132.30" stroke="#000" stroke-width="2.6" fill="none"/>
<g fill="#000" stroke="#000" stroke-width="0.6">
<text x="1871.02" y="1398.50" font-size="75">0</text>
<text x="1780.88" y="1209.14" font-size="75">0.0</text><path transform="translate(1885.12 1209.14) scale(75)" stroke-width="0.0080" d="M0.274 0V-0.491H0.105V-0.561C0.2 -0.566 0.275 -0.6 0.294 -0.697H0.365V0Z"/>
<text x="1768.00" y="1021.48" font-size="75">0.02</text>
<text x="1767.82" y="833.82" font-size="75">0.03</text>
<text x="1766.73" y="646.16" font-size="75">0.04</text>
<text x="1767.68" y="458.50" font-size="75">0.05</text>
<text x="1767.82" y="270.84" font-size="75">0.06</text>
<text x="1769.00" y="83.18" font-size="75">0.07</text>
<text x="1876.30" y="1442.70" font-size="75">90</text>
<path transform="translate(2034.49 1442.70) scale(75)" stroke-width="0.0080" d="M0.274 0V-0.491H0.105V-0.561C0.2 -0.566 0.275 -0.6 0.294 -0.697H0.365V0Z"/><text x="2076.19" y="1442.70" font-size="75">00</text>
<path transform="translate(2213.54 1442.70) scale(75)" stroke-width="0.0080" d="M0.274 0V-0.491H0.105V-0.561C0.2 -0.566 0.275 -0.6 0.294 -0.697H0.365V0Z"/><path transform="translate(2255.24 1442.70) scale(75)" stroke-width="0.0080" d="M0.274 0V-0.491H0.105V-0.561C0.2 -0.566 0.275 -0.6 0.294 -0.697H0.365V0Z"/><text x="2296.94" y="1442.70" font-size="75">0</text>
<path transform="translate(2392.58 1442.70) scale(75)" stroke-width="0.0080" d="M0.274 0V-0.491H0.105V-0.561C0.2 -0.566 0.275 -0.6 0.294 -0.697H0.365V0Z"/><text x="2434.28" y="1442.70" font-size="75">20</text>
<path transform="translate(2571.62 1442.70) scale(75)" stroke-width="0.0080" d="M0.274 0V-0.491H0.105V-0.561C0.2 -0.566 0.275 -0.6 0.294 -0.697H0.365V0Z"/><text x="2613.32" y="1442.70" font-size="75">30</text>
<path transform="translate(2750.66 1442.70) scale(75)" stroke-width="0.0080" d="M0.274 0V-0.491H0.105V-0.561C0.2 -0.566 0.275 -0.6 0.294 -0.697H0.365V0Z"/><text x="2792.36" y="1442.70" font-size="75">40</text>
<path transform="translate(2929.71 1442.70) scale(75)" stroke-width="0.0080" d="M0.274 0V-0.491H0.105V-0.561C0.2 -0.566 0.275 -0.6 0.294 -0.697H0.365V0Z"/><text x="2971.41" y="1442.70" font-size="75">50</text>
<path transform="translate(3108.75 1442.70) scale(75)" stroke-width="0.0080" d="M0.274 0V-0.491H0.105V-0.561C0.2 -0.566 0.275 -0.6 0.294 -0.697H0.365V0Z"/><text x="3150.45" y="1442.70" font-size="75">60</text>
<g transform="translate(1680.3 935.8) rotate(-90)"><text transform="translate(-0.14 0.00) scale(0.9386 1)" font-size="78.90"  fill="#000" >A.U. / 0.5 GeV</text></g>
<text transform="translate(2405.07 1524.20) scale(0.9716 1)" font-size="78.00"  fill="#000" >m</text>
<text transform="translate(2462.40 1547.31) scale(0.9953 1)" font-size="49.56"  fill="#000" >jj</text>
<text transform="translate(2503.50 1523.36) scale(0.9871 1)" font-size="73.92"  fill="#000" >[</text>
<text transform="translate(2524.77 1524.43) scale(0.9437 1)" font-size="78.67"  fill="#000" >GeV</text>
<text transform="translate(2675.75 1523.36) scale(0.9463 1)" font-size="73.92"  fill="#000" >]</text>
<rect x="1991" y="113" width="110" height="79" fill="#cfe6c5" stroke="#000" stroke-width="3.5"/>
<rect x="1991" y="226" width="110" height="78" fill="none" stroke="#000" stroke-width="6" stroke-dasharray="7 11"/>
<path d="M2139.1 177.7V148.7H2128.9V142.9C2134 142.7 2139 140.5 2140.8 135.1H2147.8V177.7Z M2192 177.7V148.7H2182V142.9C2187.1 142.7 2192.1 140.5 2193.9 135.1H2200.7V177.7Z"/>
<rect x="2159.4" y="157.1" width="17.1" height="7.8"/>
<text transform="translate(2227.86 178.00) scale(0.9421 1)" font-size="63.50" font-weight="bold" fill="#000" >correspondence reconstruction</text>
<text transform="translate(2124.74 290.80) scale(0.9440 1)" font-size="63.50" font-weight="bold" fill="#000" >CDR Baseline</text>
<text transform="translate(2021.72 451.48) scale(0.9547 1)" font-size="93.93" font-weight="bold" font-style="italic" fill="#000" >CEPC</text>
<path d="M2028.3 498 L2035.2 532.5" fill="none" stroke="#000" stroke-width="4.2"/>
<path d="M2034.6 533 L2040.6 481.4 H2084.8" fill="none" stroke="#000" stroke-width="2.6" stroke-linejoin="miter"/>
<text transform="translate(2051.94 531.99) scale(0.9415 1)" font-size="62.59" font-weight="bold" font-style="italic" fill="#000" >s</text>
<path stroke="none" d="M2108.9 504.9H2140.8L2139.2 512.5H2107.9Z M2106.8 518.1H2137.8L2136.4 525.8H2105Z"/>
<text transform="translate(2156.63 531.80) scale(0.9498 1)" font-size="63.00" font-weight="bold" font-style="italic" fill="#000" >240 GeV</text>
<text transform="translate(2016.41 612.50) scale(0.9677 1)" font-size="62.21" font-weight="bold" fill="#000" >ZH</text>
<path d="M2097 594.5 H2146 M2131 585.5 L2147.8 594.5 L2131 603.5" fill="none" stroke="#000" stroke-width="2.6"/>
<g id="nu1" fill="none" stroke="#000"><path d="M2152.4 593 C2152.5 587.5 2154.6 585.3 2156.9 585.3 C2158.9 585.3 2160 586.6 2161.2 588.6" stroke-width="2.7"/><path d="M2160.2 587 L2167.3 611.6" stroke-width="5"/><path d="M2166.6 612.6 C2170.5 604.5 2175.2 597 2176.8 589.5" stroke-width="2.6"/><ellipse cx="2177.7" cy="588.2" rx="2.6" ry="3.2" fill="#000" stroke="none"/></g>
<use href="#nu1" transform="translate(31.8 0)"/>
<text transform="translate(2214.11 613.68) scale(1.0368 1)" font-size="58.63" font-weight="bold" fill="#000" >gg</text>
</g>
</svg></body></html>
